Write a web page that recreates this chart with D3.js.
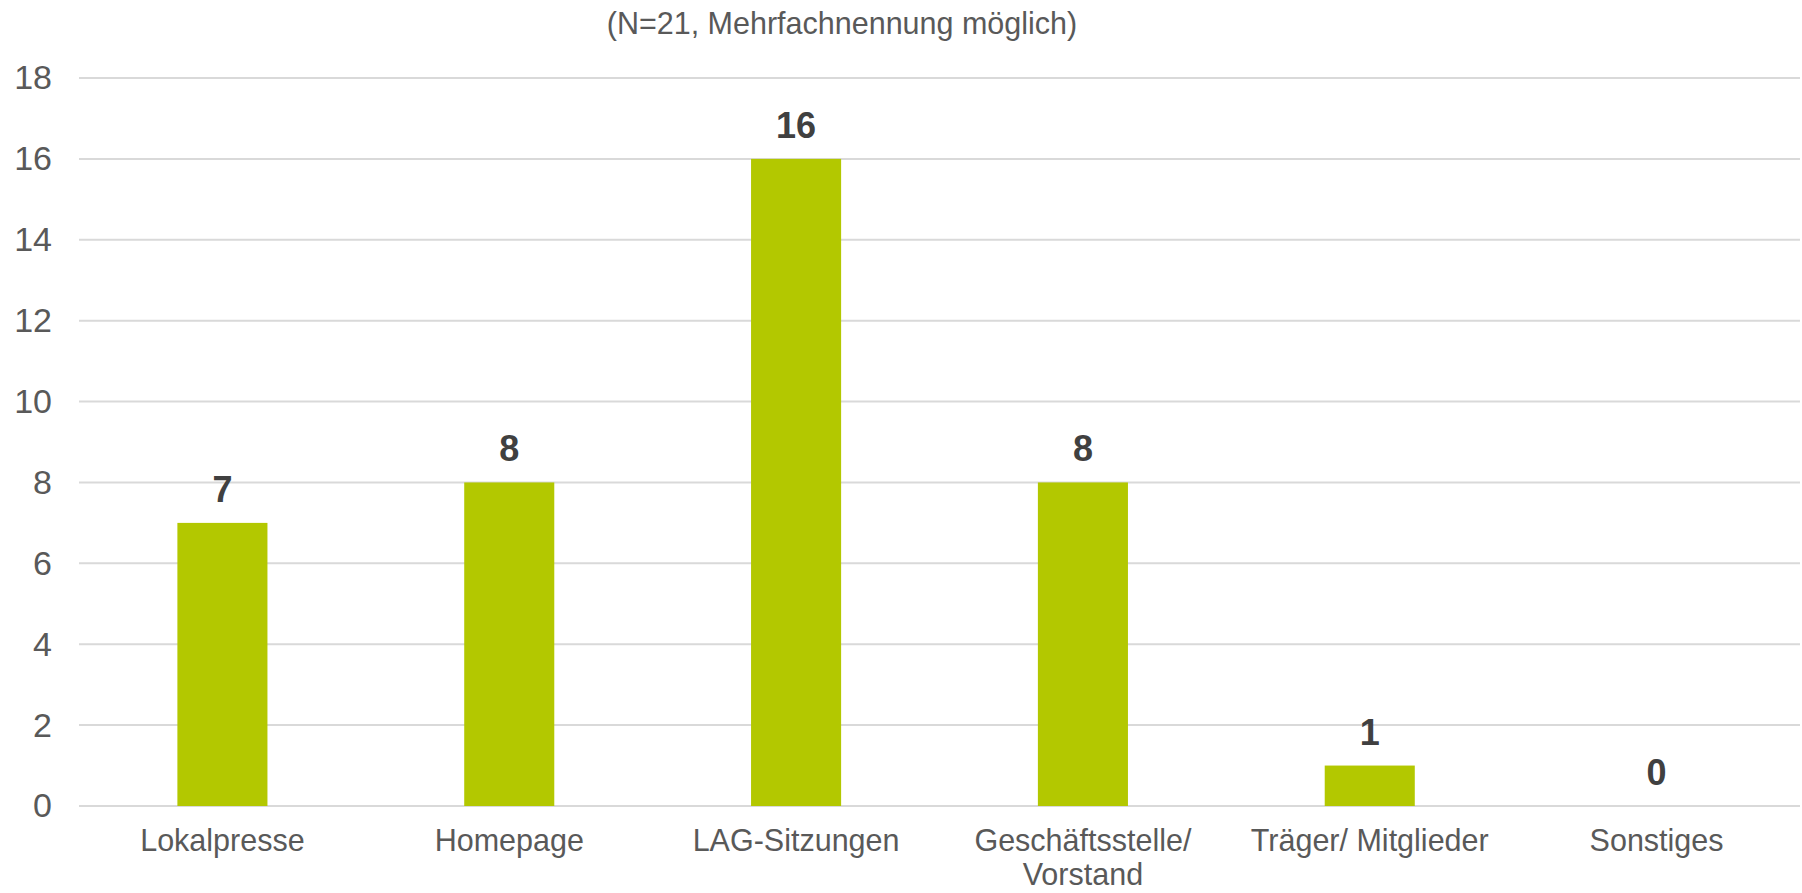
<!DOCTYPE html>
<html>
<head>
<meta charset="utf-8">
<script src="https://cdn.jsdelivr.net/npm/d3@7"></script>
<style>
  body { margin: 0; background: #fff; }
  svg { display: block; font-family: "Liberation Sans", Arial, sans-serif; }
</style>
</head>
<body>
<script>
// data
const categories = ["Lokalpresse", "Homepage", "LAG-Sitzungen", "Geschäftsstelle/\nVorstand", "Träger/ Mitglieder", "Sonstiges"];
const counts = [7, 8, 16, 8, 1, 0];
const yTicks = [0, 2, 4, 6, 8, 10, 12, 14, 16, 18];
const subtitle = "(N=21, Mehrfachnennung möglich)";

const width = 1802, height = 893;
const margin = {top: 78, right: 2, bottom: 87, left: 79};

const svg = d3.select("body").append("svg")
    .attr("width", width)
    .attr("height", height);

const x = d3.scaleBand()
    .domain(categories)
    .range([margin.left, width - margin.right])
    .paddingInner(0.686)
    .paddingOuter(0.343);

const y = d3.scaleLinear()
    .domain([0, 18])
    .range([height - margin.bottom, margin.top]);

// gridlines
svg.append("g")
    .selectAll("line")
    .data(yTicks)
    .enter()
    .append("line")
    .attr("x1", margin.left)
    .attr("x2", width - margin.right)
    .attr("y1", d => y(d))
    .attr("y2", d => y(d))
    .attr("stroke", "#d9d9d9")
    .attr("stroke-width", 2);

// Y axis labels
const yAxis = svg.append("g")
    .attr("transform", `translate(${margin.left}, 0)`)
    .call(d3.axisLeft(y).tickValues(yTicks).tickSize(0).tickPadding(27));
yAxis.select(".domain").remove();
yAxis.selectAll("text")
    .attr("fill", "#595959")
    .style("font-size", "34px")
    .style("font-family", "'Liberation Sans', Arial, sans-serif");

// bars
svg.append("g")
    .selectAll("rect")
    .data(counts)
    .enter()
    .append("rect")
    .attr("x", (d, i) => x(categories[i]))
    .attr("y", d => y(d))
    .attr("width", x.bandwidth())
    .attr("height", d => y(0) - y(d))
    .attr("fill", "#b3c800");

// value labels
svg.append("g")
    .selectAll("text")
    .data(counts)
    .enter()
    .append("text")
    .attr("x", (d, i) => x(categories[i]) + x.bandwidth() / 2)
    .attr("y", d => y(d) - 21)
    .attr("text-anchor", "middle")
    .attr("fill", "#404040")
    .style("font-size", "36px")
    .style("font-weight", "bold")
    .text(d => d);

// category labels
const xAxis = svg.append("g")
    .selectAll("text")
    .data(categories)
    .enter()
    .append("text")
    .attr("x", d => x(d) + x.bandwidth() / 2)
    .attr("y", 851)
    .attr("text-anchor", "middle")
    .attr("fill", "#595959")
    .style("font-size", "30.5px");
xAxis.each(function (d) {
    const lines = d.split("\n");
    const t = d3.select(this);
    lines.forEach((l, i) => {
        t.append("tspan")
            .attr("x", t.attr("x"))
            .attr("dy", i === 0 ? 0 : 34)
            .text(l);
    });
});

// subtitle
svg.append("text")
    .attr("x", 842)
    .attr("y", 34)
    .attr("text-anchor", "middle")
    .attr("fill", "#595959")
    .style("font-size", "30.5px")
    .text(subtitle);
</script>
</body>
</html>
